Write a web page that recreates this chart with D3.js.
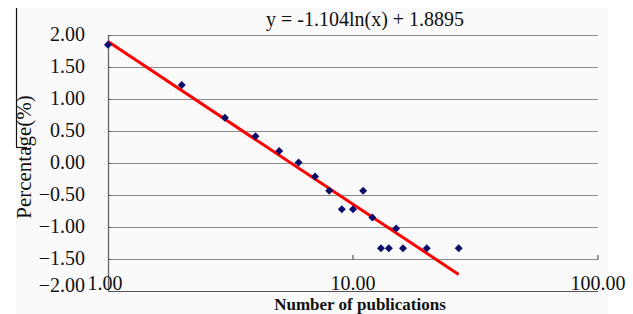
<!DOCTYPE html>
<html>
<head>
<meta charset="utf-8">
<script src="https://cdn.jsdelivr.net/npm/d3@7"></script>
<style>
  html, body { margin: 0; padding: 0; background: #ffffff; }
  svg { display: block; }
</style>
</head>
<body>
<svg id="chart" width="633" height="314"></svg>
<script>
// ---- data ----
const xValues = [1, 2, 3, 4, 5, 6, 7, 8, 9, 10, 11, 12, 13, 14, 15, 16, 20, 27];
const yValues = [1.84, 1.21, 0.70, 0.41, 0.18, 0.00, -0.22, -0.44, -0.73, -0.73, -0.44, -0.86, -1.34, -1.34, -1.03, -1.34, -1.34, -1.34];
const yTicks = [2, 1.5, 1, 0.5, 0, -0.5, -1, -1.5, -2];
const xTicks = [1, 10, 100];
const trendA = -1.104;      // slope of ln(x)
const trendB = 1.8895;      // intercept
const trendRange = [1, 27];
const equationLabel = "y = -1.104ln(x) + 1.8895";
const xTitle = "Number of publications";
const yTitle = "Percentage(%)";

(function () {
// ---- layout ----
const svg = d3.select("#chart");
const pLeft = 108, pRight = 598, pTop = 34.5, pBottom = 290.5;
const x = d3.scaleLog().domain([1, 100]).range([pLeft, pRight]);
const y = d3.scaleLinear().domain([-2, 2]).range([pBottom, pTop]);
const serif = "'Liberation Serif', 'Times New Roman', serif";

// faint background panel
svg.append("rect").attr("x", 16).attr("y", 8).attr("width", 592).attr("height", 306).attr("fill", "#fafafa");
// frame fragment at left
svg.append("line").attr("x1", 16.5).attr("x2", 16.5).attr("y1", 8).attr("y2", 147).attr("stroke", "#111").attr("stroke-width", 1.2);
svg.append("line").attr("x1", 16).attr("x2", 27).attr("y1", 147.5).attr("y2", 147.5).attr("stroke", "#111").attr("stroke-width", 1.2);

// gridlines
svg.append("g").selectAll("line").data(yTicks).join("line")
  .attr("x1", pLeft).attr("x2", pRight)
  .attr("y1", d => Math.round(y(d)) + 0.5).attr("y2", d => Math.round(y(d)) + 0.5)
  .attr("stroke", d => d === -2 ? "#555" : "#8a8a8a").attr("stroke-width", 1.2);

// ticks on the -1.5 line at x decades
svg.append("g").selectAll("line").data(xTicks.slice(1)).join("line")
  .attr("x1", d => x(d)).attr("x2", d => x(d))
  .attr("y1", Math.round(y(-1.5)) + 0.5).attr("y2", Math.round(y(-1.5)) - 4)
  .attr("stroke", "#555").attr("stroke-width", 1.2);

// y axis
const yAxis = svg.append("g").attr("transform", `translate(${pLeft},0)`)
  .call(d3.axisLeft(y).tickValues(yTicks).tickFormat(d3.format(".2f")).tickSize(0).tickPadding(23));
yAxis.select(".domain").attr("stroke", "#666").attr("stroke-width", 1.3);
yAxis.selectAll("text").attr("font-family", serif).attr("font-size", 20).attr("fill", "#111")
  .attr("dy", d => d === -2 ? "0.05em" : "0.32em");
// small inward ticks on y axis
svg.append("g").selectAll("line").data(yTicks).join("line")
  .attr("x1", pLeft).attr("x2", pLeft + 3)
  .attr("y1", d => Math.round(y(d)) + 0.5).attr("y2", d => Math.round(y(d)) + 0.5)
  .attr("stroke", "#555");

// x tick labels (sitting on the bottom line)
svg.append("g").selectAll("text").data(xTicks).join("text")
  .attr("x", d => x(d) - (d === 1 ? 3 : 0)).attr("y", 290)
  .attr("text-anchor", "middle").attr("font-family", serif).attr("font-size", 20).attr("fill", "#111")
  .text(d => d3.format(".2f")(d));

// trend line
const trend = trendRange.map(v => [v, trendA * Math.log(v) + trendB]);
svg.append("path").datum(trend)
  .attr("d", d3.line().x(d => x(d[0])).y(d => y(d[1])))
  .attr("stroke", "#ff0000").attr("stroke-width", 3).attr("fill", "none");

// points
const sym = d3.symbol().type(d3.symbolSquare).size(32);
svg.append("g").selectAll("path").data(xValues.map((v, i) => [v, yValues[i]])).join("path")
  .attr("d", sym)
  .attr("transform", d => `translate(${x(d[0])},${y(d[1])}) rotate(45)`)
  .attr("fill", "#0d0d6b");

// equation
svg.append("text").attr("x", 266).attr("y", 26).attr("font-family", serif).attr("font-size", 20)
  .attr("fill", "#111").text(equationLabel);

// axis titles
svg.append("text").attr("x", 360).attr("y", 310).attr("text-anchor", "middle")
  .attr("font-family", serif).attr("font-size", 17).attr("font-weight", "bold").attr("fill", "#111")
  .text(xTitle);
svg.append("text").attr("transform", "translate(31,157) rotate(-90)").attr("text-anchor", "middle")
  .attr("font-family", serif).attr("font-size", 21).attr("fill", "#111")
  .text(yTitle);
})();
</script>
</body>
</html>
